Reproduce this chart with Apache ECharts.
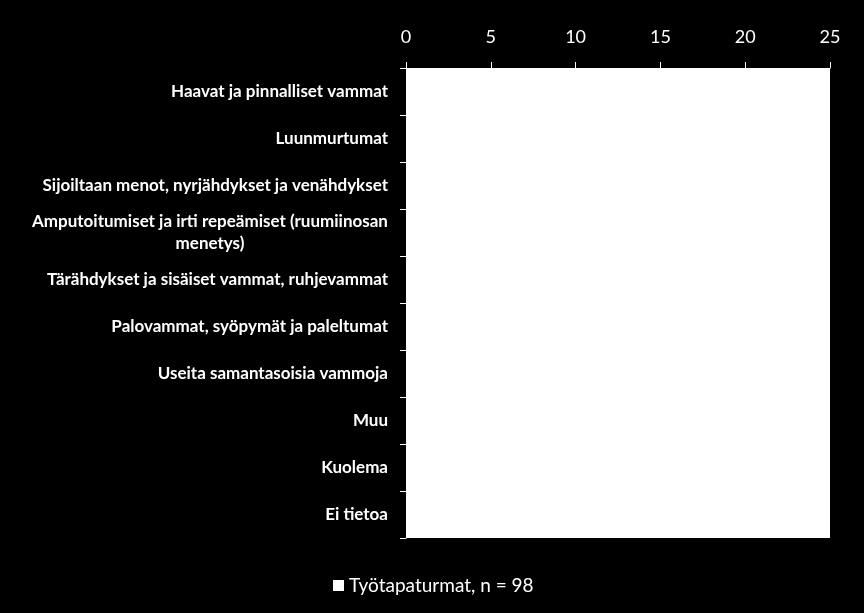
<!DOCTYPE html>
<html lang="fi">
<head>
<meta charset="UTF-8">
<title>Työtapaturmat</title>
<script src="https://cdn.jsdelivr.net/npm/echarts@6/dist/echarts.min.js"></script>
<style>
    html, body { margin: 0; padding: 0; background: #000; }
    #main { width: 864px; height: 613px; }
</style>
</head>
<body>
<div id="main"></div>
<script>
    // vammojen luokat (ylhäältä alas)
    var categories = [
        'Haavat ja pinnalliset vammat',
        'Luunmurtumat',
        'Sijoiltaan menot, nyrjähdykset ja venähdykset',
        'Amputoitumiset ja irti repeämiset (ruumiinosan\nmenetys)',
        'Tärähdykset ja sisäiset vammat, ruhjevammat',
        'Palovammat, syöpymät ja paleltumat',
        'Useita samantasoisia vammoja',
        'Muu',
        'Kuolema',
        'Ei tietoa'
    ];
    // palkit ovat valkoisia valkoisella pohjalla -> arvot arvioitu
    var values = [22, 18, 15, 2, 12, 5, 3, 8, 1, 12];
    var seriesName = 'Työtapaturmat, n = 98';
    var xTicks = [0, 5, 10, 15, 20, 25];

    var fontFam = 'Lato, "Open Sans", sans-serif';
    var labelSize = 17;
    var labelFont = 'bold ' + labelSize + 'px ' + fontFam;

    // monirivisen nimen ensimmäisen rivin leveys
    var ctx = document.createElement('canvas').getContext('2d');
    ctx.font = labelFont;
    function lineWidth(s) { return Math.ceil(ctx.measureText(s).width); }

    var myChart = echarts.init(document.getElementById('main'));

    var option = {
        backgroundColor: '#000',
        animation: false,
        grid: {
            left: 406, right: 34, top: 68, bottom: 75,
            show: true, backgroundColor: '#fff', borderWidth: 0
        },
        legend: {
            left: 328, top: 571,
            icon: 'rect', itemWidth: 11, itemHeight: 11, itemGap: 6,
            textStyle: { color: '#fff', fontSize: 19, fontFamily: fontFam }
        },
        xAxis: {
            type: 'value', position: 'top',
            min: xTicks[0], max: xTicks[xTicks.length - 1], interval: 5,
            axisLine: { show: true, lineStyle: { color: '#fff' } },
            axisTick: { show: true, length: 6, lineStyle: { color: '#fff' } },
            splitLine: { show: false },
            axisLabel: { color: '#fff', fontSize: 18, fontFamily: fontFam, margin: 22 }
        },
        yAxis: {
            type: 'category', inverse: true, data: categories,
            axisLine: { show: true, lineStyle: { color: '#fff' } },
            axisTick: { show: true, length: 6, lineStyle: { color: '#fff' } },
            axisLabel: {
                color: '#fff', fontSize: labelSize, fontWeight: 'bold', fontFamily: fontFam,
                margin: 18, lineHeight: 22,
                formatter: function (v) {
                    if (v.indexOf('\n') < 0) return v;
                    return v.split('\n').map(function (l) { return '{c|' + l + '}'; }).join('\n');
                },
                rich: {
                    c: {
                        width: lineWidth(categories[3].split('\n')[0]), align: 'center',
                        color: '#fff', fontSize: labelSize, fontWeight: 'bold', fontFamily: fontFam,
                        lineHeight: 22
                    }
                }
            }
        },
        series: [{
            name: seriesName,
            type: 'bar',
            data: values,
            barWidth: '60%',
            itemStyle: { color: '#fff' }
        }]
    };

    myChart.setOption(option);
</script>
</body>
</html>
